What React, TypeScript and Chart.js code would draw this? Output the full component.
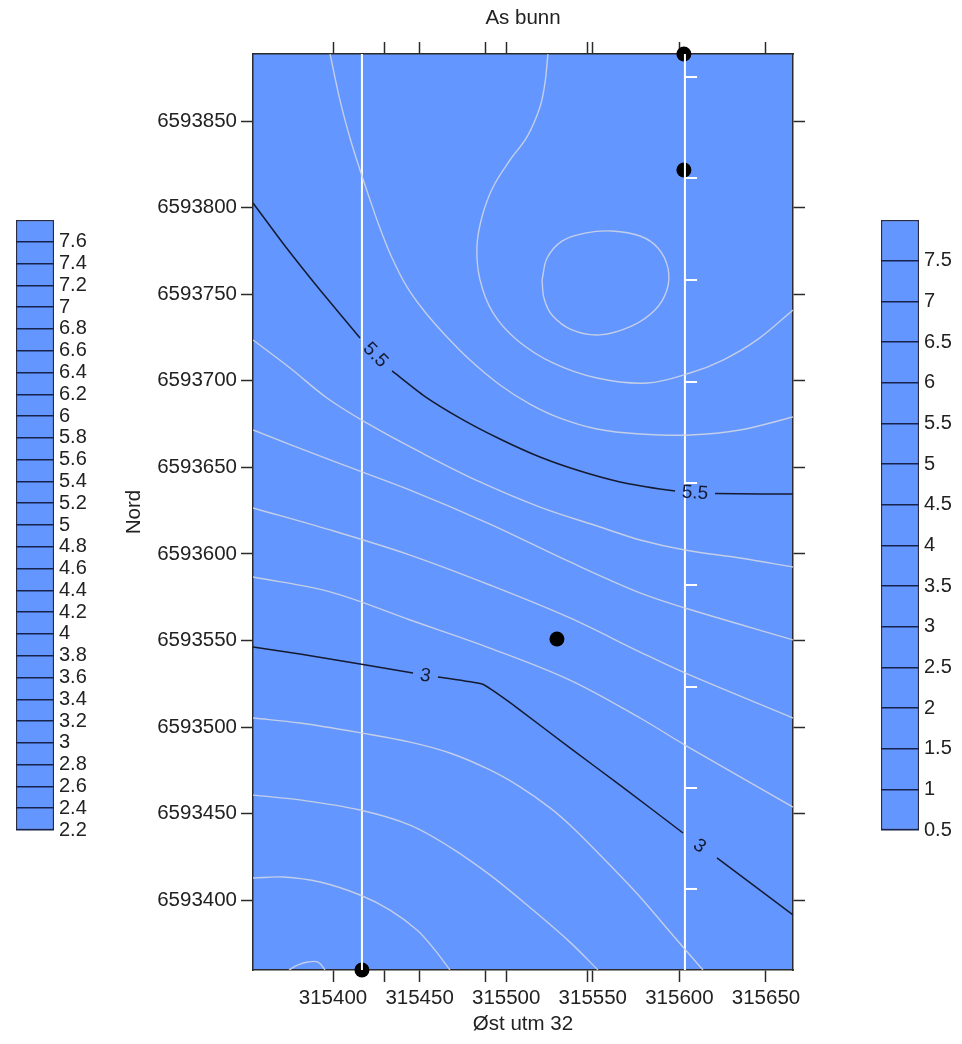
import React, { useEffect, useRef } from "react";
import { Chart, registerables } from "chart.js";

Chart.register(...registerables);

type P = [number, number];

// ---------- titles ----------
const chartTitle = "As bunn";
const eastTitle = "Øst utm 32";
const northTitle = "Nord";

// ---------- axes ----------
const eastRange: P = [315353.8, 315665.6];
const northRange: P = [6593359.8, 6593888.7];
const eastTickLabels = [315400, 315450, 315500, 315550, 315600, 315650];
const eastMinorTicks = [315430, 315488, 315547];
const northTickLabels = [
  6593400, 6593450, 6593500, 6593550, 6593600, 6593650, 6593700, 6593750, 6593800, 6593850,
];

// ---------- contour lines (east, north) ----------
const contour1_0: P[] = [
  [315374.6, 6593359.8], [315379.8, 6593362.7], [315385.6, 6593364.4], [315391.3, 6593364.4], [315395.4, 6593359.8],
];
const contour1_5: P[] = [
  [315353.8, 6593412.9], [315371.1, 6593413.5], [315392.5, 6593410.6], [315415.6, 6593403.1],
  [315432.9, 6593394.4], [315448.5, 6593382.9], [315458.9, 6593371.3], [315467.5, 6593359.8],
];
const contour2_0: P[] = [
  [315353.8, 6593460.8], [315380.9, 6593458.0], [315415.6, 6593452.2], [315444.5, 6593443.5],
  [315467.5, 6593430.8], [315490.6, 6593414.7], [315515.5, 6593394.4], [315536.8, 6593375.9], [315553.0, 6593359.8],
];
const contour2_5: P[] = [
  [315353.8, 6593505.3], [315380.9, 6593502.4], [315416.7, 6593496.6], [315444.5, 6593491.4],
  [315467.5, 6593485.1], [315490.6, 6593475.3], [315508.0, 6593465.5], [315525.3, 6593453.4],
  [315536.8, 6593443.5], [315554.2, 6593426.2], [315577.3, 6593402.0], [315594.6, 6593381.7], [315613.6, 6593359.8],
];
const contour3_0: P[][] = [
  [[315353.8, 6593546.3], [315380.9, 6593542.3], [315415.6, 6593536.5], [315446.2, 6593531.3]],
  [[315460.6, 6593529.0], [315486.0, 6593524.9], [315491.8, 6593521.5], [315508.0, 6593509.9],
   [315536.8, 6593488.0], [315565.7, 6593466.6], [315602.1, 6593438.9]],
  [[315621.7, 6593424.5], [315665.6, 6593391.6]],
];
const contour3_5: P[] = [
  [315353.8, 6593586.7], [315398.3, 6593578.1], [315444.5, 6593561.9], [315490.6, 6593545.7],
  [315536.8, 6593527.2], [315577.3, 6593505.3], [315603.2, 6593489.7], [315665.6, 6593453.9],
];
const contour4_0: P[] = [
  [315353.8, 6593626.6], [315398.3, 6593613.9], [315444.5, 6593599.4], [315490.6, 6593582.1],
  [315536.8, 6593563.1], [315577.3, 6593543.4], [315603.2, 6593531.3], [315665.6, 6593505.3],
];
const contour4_5: P[] = [
  [315353.8, 6593671.6], [315398.3, 6593654.3], [315444.5, 6593636.9], [315490.6, 6593617.3],
  [315536.8, 6593595.4], [315577.3, 6593577.5], [315603.2, 6593568.8], [315665.6, 6593550.4],
];
const contour5_0: P[] = [
  [315353.8, 6593723.6], [315375.2, 6593707.4], [315396.5, 6593690.1], [315421.4, 6593674.5],
  [315450.2, 6593658.9], [315484.9, 6593641.6], [315519.5, 6593627.1], [315554.2, 6593615.6],
  [315577.3, 6593608.1], [315603.2, 6593602.3], [315635.0, 6593597.7], [315665.6, 6593592.5],
];
const contour5_5: P[][] = [
  [[315353.8, 6593802.7], [315372.3, 6593777.8], [315392.5, 6593752.4], [315415.6, 6593724.7]],
  [[315434.1, 6593705.7], [315451.9, 6593691.8], [315473.3, 6593678.5], [315496.4, 6593666.4],
   [315519.5, 6593656.0], [315542.6, 6593647.9], [315565.7, 6593641.6], [315588.8, 6593637.5], [315597.5, 6593636.4]],
  [[315620.6, 6593635.0], [315646.5, 6593634.6], [315665.6, 6593634.6]],
];
const contour6_0: P[] = [
  [315398.3, 6593888.7], [315404.0, 6593862.1], [315409.8, 6593840.2], [315415.6, 6593821.7],
  [315421.4, 6593804.4], [315427.1, 6593788.2], [315434.1, 6593770.9], [315442.7, 6593754.2],
  [315453.1, 6593739.7], [315464.7, 6593726.5], [315479.1, 6593712.0], [315496.4, 6593697.6],
  [315513.7, 6593686.6], [315531.1, 6593678.5], [315552.4, 6593672.2], [315577.3, 6593669.3],
  [315606.1, 6593668.7], [315635.0, 6593671.6], [315665.6, 6593679.1],
];
const contour6_5: P[] = [
  [315524.1, 6593888.7], [315522.4, 6593872.0], [315519.5, 6593858.1], [315512.0, 6593840.8],
  [315502.2, 6593827.5], [315492.4, 6593811.9], [315486.0, 6593794.6], [315483.1, 6593777.3],
  [315484.9, 6593758.2], [315492.4, 6593739.2], [315506.2, 6593723.6], [315527.0, 6593710.3],
  [315552.4, 6593701.6], [315581.3, 6593698.7], [315606.1, 6593704.5], [315625.2, 6593712.0],
  [315644.8, 6593723.6], [315665.6, 6593740.9],
];
const contour7_0: P[] = [
  [315520.7, 6593758.2], [315523.6, 6593770.9], [315532.2, 6593780.7], [315545.5, 6593785.3],
  [315561.1, 6593786.5], [315577.3, 6593783.6], [315587.6, 6593776.7], [315593.4, 6593765.1],
  [315592.8, 6593752.4], [315585.9, 6593740.9], [315572.6, 6593731.7], [315554.2, 6593726.5],
  [315538.0, 6593729.4], [315526.4, 6593738.0], [315521.8, 6593747.8], [315520.7, 6593758.2],
];

const minorContours: { level: number; path: P[] }[] = [
  { level: 1.0, path: contour1_0 },
  { level: 1.5, path: contour1_5 },
  { level: 2.0, path: contour2_0 },
  { level: 2.5, path: contour2_5 },
  { level: 3.5, path: contour3_5 },
  { level: 4.0, path: contour4_0 },
  { level: 4.5, path: contour4_5 },
  { level: 5.0, path: contour5_0 },
  { level: 6.0, path: contour6_0 },
  { level: 6.5, path: contour6_5 },
  { level: 7.0, path: contour7_0 },
];
const majorContours: { level: number; segments: P[][] }[] = [
  { level: 3, segments: contour3_0 },
  { level: 5.5, segments: contour5_5 },
];

// ---------- profiles and samples ----------
const profileWestEast = 315416.7;
const profileEastEast = 315603.2;
const profileEastMarks = [
  6593875.4, 6593817.1, 6593758.2, 6593699.3, 6593641.0, 6593582.1, 6593523.2, 6593464.9, 6593406.6,
];
const profileMarkLength = 7;
const samplePoints: P[] = [
  [315416.7, 6593359.8],
  [315529.3, 6593550.9],
  [315602.6, 6593821.7],
  [315602.6, 6593888.7],
];

// ---------- colour-scale legends ----------
const fillLegendLevels = [
  2.2, 2.4, 2.6, 2.8, 3, 3.2, 3.4, 3.6, 3.8, 4, 4.2, 4.4, 4.6, 4.8, 5, 5.2, 5.4, 5.6, 5.8, 6,
  6.2, 6.4, 6.6, 6.8, 7, 7.2, 7.4, 7.6,
];
const fillLegendRange: P = [2.2, 7.8];
const lineLegendLevels = [0.5, 1, 1.5, 2, 2.5, 3, 3.5, 4, 4.5, 5, 5.5, 6, 6.5, 7, 7.5];
const lineLegendRange: P = [0.5, 8];

// ---------- styles ----------
const FILL = "rgb(100,150,255)";
const MINOR = "rgba(205,212,228,0.9)";
const MAJOR = "#141a30";
const AXIS = "#2a2a2a";
const TEXT = "#222222";
const FONT_FAMILY = "'Liberation Sans', Arial, sans-serif";
const font = { family: FONT_FAMILY, size: 20.5 };
const legendFont = { family: FONT_FAMILY, size: 20 };

const toXY = (p: P) => ({ x: p[0], y: p[1] });

const plotFillPlugin = {
  id: "plotFill",
  beforeDraw(chart: any) {
    const { ctx, chartArea: a } = chart;
    if (!a) return;
    ctx.save();
    ctx.fillStyle = FILL;
    ctx.fillRect(a.left, a.top, a.right - a.left, a.bottom - a.top);
    ctx.restore();
  },
};

const contourLabelPlugin = {
  id: "contourLabels",
  afterDatasetsDraw(chart: any) {
    const { ctx, scales } = chart;
    const sx = scales.x;
    const sy = scales.y;
    ctx.save();
    ctx.font = `19px ${FONT_FAMILY}`;
    ctx.fillStyle = MAJOR;
    ctx.textAlign = "center";
    ctx.textBaseline = "middle";
    majorContours.forEach((c) => {
      for (let i = 0; i < c.segments.length - 1; i++) {
        const seg = c.segments[i];
        const a = seg[seg.length - 1];
        const b = c.segments[i + 1][0];
        const ax = sx.getPixelForValue(a[0]);
        const ay = sy.getPixelForValue(a[1]);
        const bx = sx.getPixelForValue(b[0]);
        const by = sy.getPixelForValue(b[1]);
        let ang = Math.atan2(by - ay, bx - ax);
        if (ang > Math.PI / 2) ang -= Math.PI;
        if (ang < -Math.PI / 2) ang += Math.PI;
        ctx.save();
        ctx.translate((ax + bx) / 2, (ay + by) / 2);
        ctx.rotate(ang);
        ctx.fillText(String(c.level), 0, 1);
        ctx.restore();
      }
    });
    ctx.restore();
  },
};

function buildMainConfig(): any {
  const eastTicks = [...eastTickLabels, ...eastMinorTicks].sort((a, b) => a - b);
  const datasets: any[] = [];
  minorContours.forEach((c) => {
    datasets.push({
      label: `c${c.level}`,
      data: c.path.map(toXY),
      showLine: true,
      borderColor: MINOR,
      borderWidth: 1.4,
      pointRadius: 0,
      tension: 0.35,
      fill: false,
    });
  });
  majorContours.forEach((c) => {
    c.segments.forEach((seg, i) => {
      datasets.push({
        label: `c${c.level}-${i}`,
        data: seg.map(toXY),
        showLine: true,
        borderColor: MAJOR,
        borderWidth: 1.5,
        pointRadius: 0,
        tension: 0.2,
        fill: false,
      });
    });
  });
  [profileWestEast, profileEastEast].forEach((e, i) => {
    datasets.push({
      label: `profile${i}`,
      data: [
        { x: e, y: northRange[0] },
        { x: e, y: northRange[1] },
      ],
      showLine: true,
      borderColor: "#ffffff",
      borderWidth: 2,
      pointRadius: 0,
    });
  });
  profileEastMarks.forEach((n, i) => {
    datasets.push({
      label: `mark${i}`,
      data: [
        { x: profileEastEast, y: n },
        { x: profileEastEast + profileMarkLength, y: n },
      ],
      showLine: true,
      borderColor: "#ffffff",
      borderWidth: 2,
      pointRadius: 0,
    });
  });
  datasets.push({
    label: "samples",
    data: samplePoints.map(toXY),
    showLine: false,
    pointRadius: 7.5,
    pointBackgroundColor: "#000000",
    pointBorderWidth: 0,
    clip: false,
  });

  const gridCommon = {
    drawOnChartArea: false,
    drawTicks: true,
    tickLength: 12,
    tickColor: AXIS,
    tickWidth: 1.5,
  };
  const borderCommon = { display: true, color: AXIS, width: 1.5 };

  return {
    type: "scatter",
    data: { datasets },
    plugins: [plotFillPlugin, contourLabelPlugin],
    options: {
      animation: false,
      responsive: true,
      maintainAspectRatio: false,
      events: [],
      layout: { padding: 0 },
      plugins: { legend: { display: false }, tooltip: { enabled: false } },
      scales: {
        x: {
          type: "linear",
          position: "bottom",
          min: eastRange[0],
          max: eastRange[1],
          afterBuildTicks: (s: any) => {
            s.ticks = eastTicks.map((v) => ({ value: v }));
          },
          afterFit: (s: any) => {
            s.height = 74;
          },
          ticks: {
            autoSkip: false,
            maxRotation: 0,
            minRotation: 0,
            padding: 4,
            color: TEXT,
            font,
            callback: (v: number) => (eastTickLabels.includes(v) ? String(v) : ""),
          },
          grid: gridCommon,
          border: borderCommon,
          title: { display: true, text: eastTitle, color: TEXT, font, padding: { top: 0, bottom: 7 } },
        },
        x2: {
          type: "linear",
          position: "top",
          min: eastRange[0],
          max: eastRange[1],
          afterBuildTicks: (s: any) => {
            s.ticks = eastTicks.map((v) => ({ value: v }));
          },
          afterFit: (s: any) => {
            s.height = 54;
          },
          ticks: { display: false, autoSkip: false },
          grid: gridCommon,
          border: borderCommon,
          title: { display: true, text: chartTitle, color: TEXT, font, padding: { top: 6, bottom: 0 } },
        },
        y: {
          type: "linear",
          position: "left",
          min: northRange[0],
          max: northRange[1],
          afterBuildTicks: (s: any) => {
            s.ticks = northTickLabels.map((v) => ({ value: v }));
          },
          afterFit: (s: any) => {
            s.width = 253;
          },
          ticks: {
            autoSkip: false,
            padding: 4,
            color: TEXT,
            font,
            callback: (v: number) => String(v),
          },
          grid: gridCommon,
          border: borderCommon,
          title: { display: true, text: northTitle, color: TEXT, font, padding: { top: 122, bottom: 0 } },
        },
        y2: {
          type: "linear",
          position: "right",
          min: northRange[0],
          max: northRange[1],
          afterBuildTicks: (s: any) => {
            s.ticks = northTickLabels.map((v) => ({ value: v }));
          },
          afterFit: (s: any) => {
            s.width = 169;
          },
          ticks: { display: false, autoSkip: false },
          grid: gridCommon,
          border: borderCommon,
        },
      },
    },
  };
}

function buildLegendConfig(levels: number[], range: P, padLeft: number, axisWidth: number): any {
  return {
    type: "bar",
    data: {
      labels: [""],
      datasets: [
        {
          data: [range],
          backgroundColor: FILL,
          borderColor: "#2a2d40",
          borderWidth: 1.5,
          borderSkipped: false,
          barPercentage: 1,
          categoryPercentage: 1,
        },
      ],
    },
    options: {
      animation: false,
      responsive: true,
      maintainAspectRatio: false,
      events: [],
      layout: { padding: { left: padLeft, right: 0, top: 20, bottom: 30 } },
      plugins: { legend: { display: false }, tooltip: { enabled: false } },
      scales: {
        x: { display: false },
        y: {
          type: "linear",
          position: "right",
          min: range[0],
          max: range[1],
          afterBuildTicks: (s: any) => {
            s.ticks = levels.map((v) => ({ value: v }));
          },
          afterFit: (s: any) => {
            s.width = axisWidth;
          },
          grid: { drawOnChartArea: true, drawTicks: false, color: "#16224a", lineWidth: 1.5, z: 1 },
          border: { display: false },
          ticks: {
            autoSkip: false,
            padding: 5,
            color: TEXT,
            font: legendFont,
            callback: (v: number) => String(v),
          },
        },
      },
    },
  };
}

export default function App() {
  const mainRef = useRef<HTMLCanvasElement>(null);
  const leftRef = useRef<HTMLCanvasElement>(null);
  const rightRef = useRef<HTMLCanvasElement>(null);

  useEffect(() => {
    const charts: Chart[] = [];
    if (mainRef.current) charts.push(new Chart(mainRef.current, buildMainConfig()));
    if (leftRef.current)
      charts.push(new Chart(leftRef.current, buildLegendConfig(fillLegendLevels, fillLegendRange, 16, 66)));
    if (rightRef.current)
      charts.push(new Chart(rightRef.current, buildLegendConfig(lineLegendLevels, lineLegendRange, 21, 43)));
    return () => charts.forEach((c) => c.destroy());
  }, []);

  return (
    <div style={{ position: "absolute", left: 0, top: 0, width: 962, height: 1044, background: "#ffffff" }}>
      <div style={{ position: "absolute", left: 0, top: 0, width: 962, height: 1044 }}>
        <canvas ref={mainRef} />
      </div>
      <div style={{ position: "absolute", left: 0, top: 200, width: 120, height: 660 }}>
        <canvas ref={leftRef} />
      </div>
      <div style={{ position: "absolute", left: 860, top: 200, width: 102, height: 660 }}>
        <canvas ref={rightRef} />
      </div>
    </div>
  );
}
